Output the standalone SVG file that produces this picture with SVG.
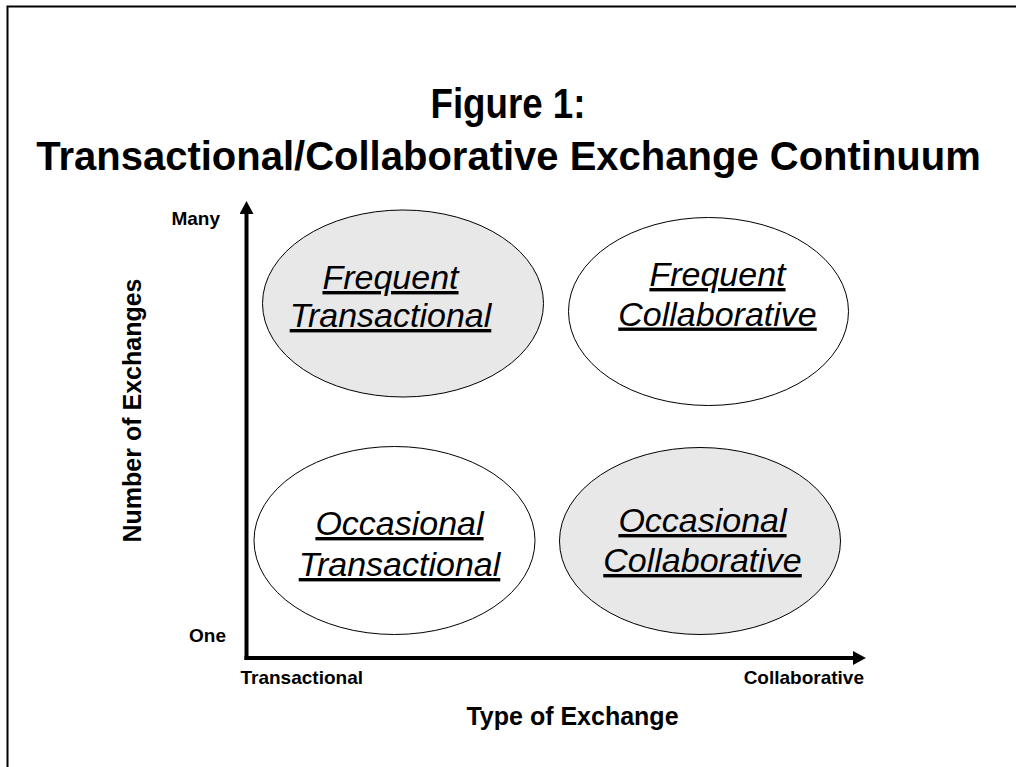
<svg xmlns="http://www.w3.org/2000/svg" width="1016" height="767" viewBox="0 0 1016 767">
  <style>
    .title { font-family: "Liberation Sans", Arial, sans-serif; font-weight: bold; fill: #000; text-anchor: middle; }
    .lbl { font-family: "Liberation Sans", Arial, sans-serif; font-weight: bold; font-size: 19px; fill: #000; }
    .axisname { font-family: "Liberation Sans", Arial, sans-serif; font-weight: bold; font-size: 25px; fill: #000; text-anchor: middle; }
    .oval { stroke: #000; stroke-width: 1; }
    .shaded { fill: #e8e8e8; }
    .plain { fill: #ffffff; }
    .cell { font-family: "Liberation Sans", Arial, sans-serif; font-style: italic; font-size: 34px; fill: #000; text-anchor: middle; text-decoration: underline; }
    .axis { stroke: #000; stroke-width: 4; fill: none; }
  </style>
  <defs>
    <marker id="head" markerUnits="userSpaceOnUse" markerWidth="14" markerHeight="14" viewBox="0 0 12 13" refX="0" refY="6.5" orient="auto">
      <path d="M0,0 L12,6.5 L0,13 Z" fill="#000"/>
    </marker>
  </defs>

  <rect width="1016" height="767" fill="#ffffff"/>

  <!-- page frame (top and left edges) -->
  <path d="M7.5,767 V6.5 H1016" fill="none" stroke="#000" stroke-width="2"/>

  <!-- heading -->
  <text class="title" x="508" y="118" font-size="42" textLength="155" lengthAdjust="spacingAndGlyphs">Figure 1:</text>
  <text class="title" x="508.5" y="170" font-size="40">Transactional/Collaborative Exchange Continuum</text>

  <!-- axes -->
  <g id="connectors">
    <path class="axis" d="M246.5,660 V214" marker-end="url(#head)"/>
    <path class="axis" d="M244.5,658 H853" marker-end="url(#head)"/>
  </g>

  <!-- axis end labels -->
  <text class="lbl" x="220" y="225" text-anchor="end">Many</text>
  <text class="lbl" x="226" y="641.5" text-anchor="end">One</text>
  <text class="lbl" x="240.5" y="684">Transactional</text>
  <text class="lbl" x="864" y="683.5" text-anchor="end">Collaborative</text>

  <!-- axis names -->
  <text class="axisname" x="572.5" y="725">Type of Exchange</text>
  <text class="axisname" transform="translate(140.5,410.5) rotate(-90)" x="0" y="0">Number of Exchanges</text>

  <!-- quadrants -->
  <g id="frequent-transactional">
    <ellipse class="oval shaded" cx="403" cy="303.5" rx="140.5" ry="93.5"/>
    <text class="cell" x="390.5" y="289">Frequent</text>
    <text class="cell" x="390.5" y="327">Transactional</text>
  </g>

  <g id="frequent-collaborative">
    <ellipse class="oval plain" cx="708.5" cy="311.5" rx="140" ry="94"/>
    <text class="cell" x="717.5" y="286">Frequent</text>
    <text class="cell" x="717.5" y="325.5">Collaborative</text>
  </g>

  <g id="occasional-transactional">
    <ellipse class="oval plain" cx="394.5" cy="540.5" rx="140.5" ry="94"/>
    <text class="cell" x="399.5" y="535">Occasional</text>
    <text class="cell" x="399.5" y="576">Transactional</text>
  </g>

  <g id="occasional-collaborative">
    <ellipse class="oval shaded" cx="700" cy="541" rx="140.5" ry="93.5"/>
    <text class="cell" x="702.5" y="532">Occasional</text>
    <text class="cell" x="702.5" y="572">Collaborative</text>
  </g>
</svg>
